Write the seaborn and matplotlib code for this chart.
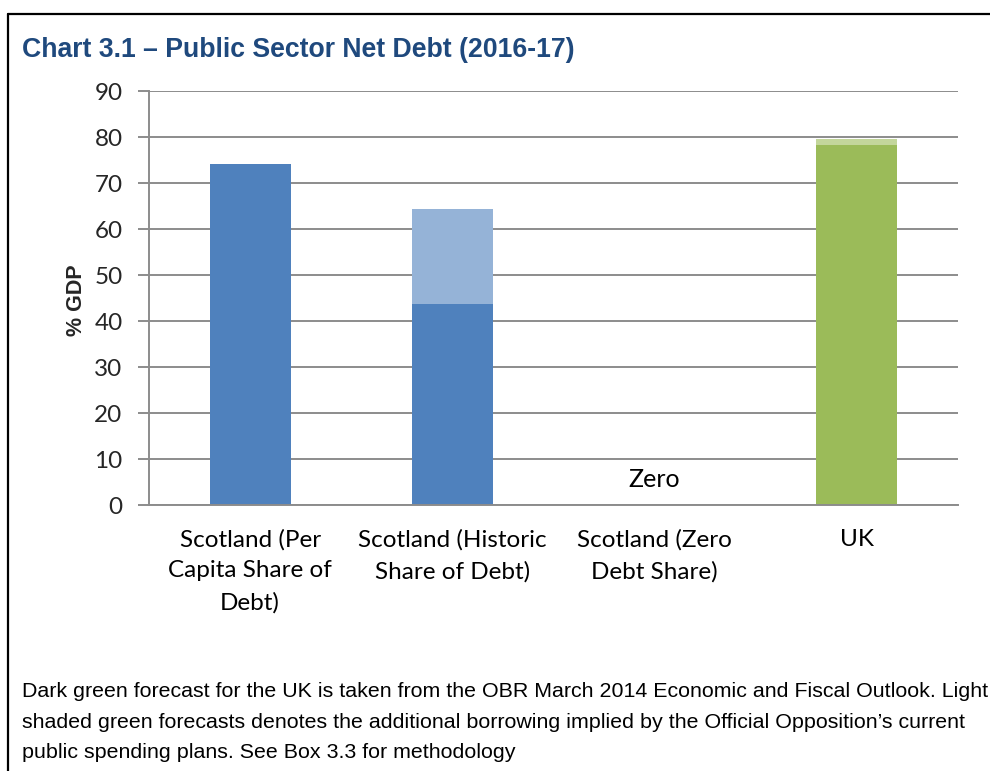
import matplotlib
matplotlib.use("Agg")
import matplotlib.pyplot as plt
from matplotlib.lines import Line2D
import seaborn as sns
import pandas as pd

# Data: % of GDP, 2016-17
categories = [
    "Scotland (Per\nCapita Share of\nDebt)",
    "Scotland (Historic\nShare of Debt)",
    "Scotland (Zero\nDebt Share)",
    "UK",
]
base_debt = [74.1, 43.8, 0.0, 78.3]
total_debt = [74.1, 64.3, 0.0, 79.6]
y_ticks = [0, 10, 20, 30, 40, 50, 60, 70, 80, 90]

base_colors = ["#4F81BD", "#4F81BD", "#4F81BD", "#9BBB59"]
extra_colors = ["#95B3D7", "#95B3D7", "#95B3D7", "#C3D69B"]

footnote_lines = [
    "Dark green forecast for the UK is taken from the OBR March 2014 Economic and Fiscal Outlook. Light",
    "shaded green forecasts denotes the additional borrowing implied by the Official Opposition\u2019s current",
    "public spending plans. See Box 3.3 for methodology",
]

df = pd.DataFrame({"category": categories, "base": base_debt, "total": total_debt})

sns.set_theme(style="white")
plt.rcParams["font.family"] = ["Lato", "DejaVu Sans"]
arial = ["Liberation Sans", "DejaVu Sans"]

W, H = 990, 771
fig = plt.figure(figsize=(W / 100, H / 100), dpi=100)
ax = fig.add_axes([149 / W, 1 - 505 / H, (958 - 149) / W, (505 - 91) / H])

# Lighter stacked segment drawn as the full total, darker base on top of it
sns.barplot(data=df, x="category", y="total", hue="category",
            palette=dict(zip(categories, extra_colors)), width=0.4,
            saturation=1, legend=False, ax=ax, linewidth=0)
sns.barplot(data=df, x="category", y="base", hue="category",
            palette=dict(zip(categories, base_colors)), width=0.4,
            saturation=1, legend=False, ax=ax, linewidth=0)

grid_col = "#8C8C8C"
ax.set_ylim(0, 90)
ax.set_xlim(-0.5, 3.5)
ax.set_yticks(y_ticks)
ax.yaxis.grid(True, color=grid_col, linewidth=1.4)
ax.set_axisbelow(True)
for side in ["top", "right"]:
    ax.spines[side].set_visible(False)
for side in ["left", "bottom"]:
    ax.spines[side].set_color(grid_col)
    ax.spines[side].set_linewidth(1.4)

ax.set_xticks([-0.5, 0.5, 1.5, 2.5, 3.5], minor=True)
ax.tick_params(axis="x", which="major", length=0, pad=17, labelsize=17.5, colors="black")
ax.tick_params(axis="x", which="minor", length=8, width=1.4, color=grid_col, direction="out")
ax.tick_params(axis="y", length=8, width=1.4, color=grid_col, direction="out",
               left=True, labelsize=17.5, pad=11)
for lbl in ax.get_xticklabels():
    lbl.set_linespacing(1.6)

ax.set_xlabel("")
ax.set_ylabel("")
fig.text(77 / W, 1 - 300 / H, "% GDP", rotation=90, fontsize=15.5, fontweight="bold",
         family=arial, ha="center", va="center")

ax.text(2, 5.6, "Zero", ha="center", va="center", fontsize=18, color="black")

fig.text(22 / W, 1 - 57 / H, "Chart 3.1 \u2013 Public Sector Net Debt (2016-17)",
         fontsize=19.2, fontweight="bold", color="#1F497D",
         family=arial, ha="left", va="baseline")

for i, line in enumerate(footnote_lines):
    fig.text(22 / W, 1 - (697 + 30.5 * i) / H, line, fontsize=15.4, color="black",
             family=arial, ha="left", va="baseline")

# Outer frame (top and left edges)
fig.add_artist(Line2D([8 / W, 1.0], [1 - 14 / H, 1 - 14 / H], color="black", linewidth=1.6,
                      transform=fig.transFigure))
fig.add_artist(Line2D([8 / W, 8 / W], [0.0, 1 - 14 / H], color="black", linewidth=1.6,
                      transform=fig.transFigure))

fig.savefig("out.png", dpi=100)
